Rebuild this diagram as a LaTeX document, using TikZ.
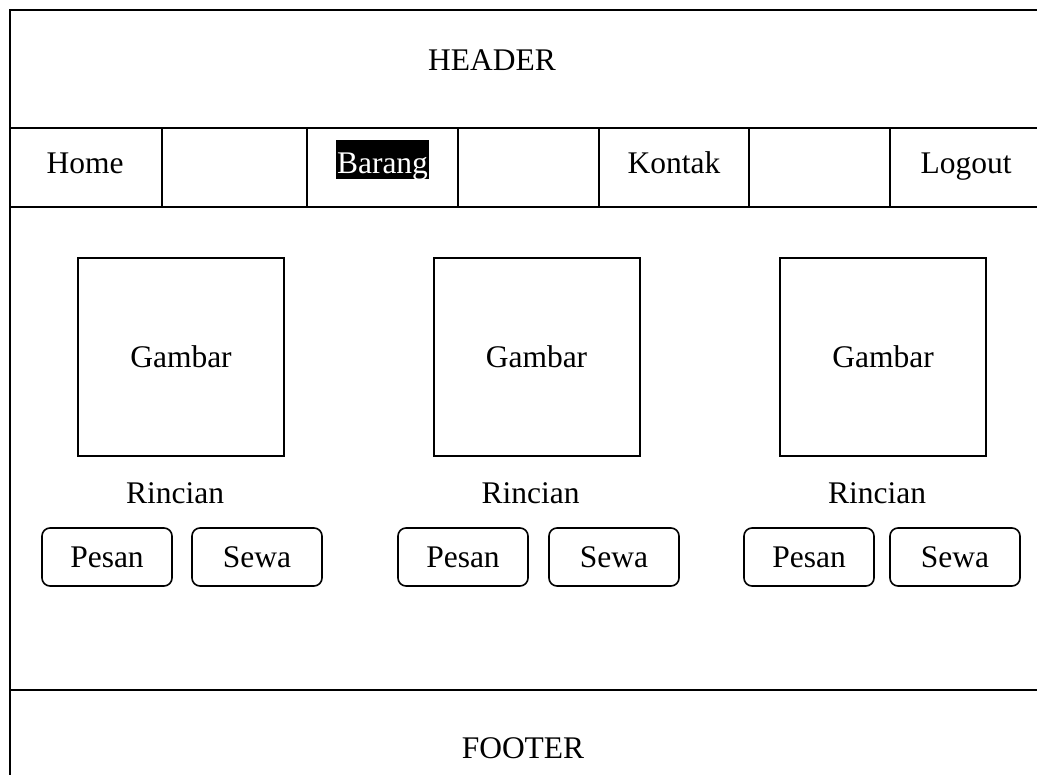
\documentclass[tikz,border=0pt]{standalone}
\usepackage{fontspec}
\setmainfont{Liberation Serif}
\usepackage{tikz}
\usetikzlibrary{positioning}

\tikzset{
  label/.style={font=\fontsize{31.5}{36}\selectfont, inner sep=0pt},
  gambarbox/.style={draw, line width=2pt, minimum width=206pt, minimum height=198pt, label},
  tombol/.style={draw, line width=1.6pt, rounded corners=8pt, minimum width=130pt, minimum height=58pt, label},
}

\begin{document}
\begin{tikzpicture}[x=1pt, y=-1pt, line width=2pt]
        \useasboundingbox (0,0) rectangle (1037,775);

        % outer frame and section lines
        \draw (1040,10) -- (10,10) -- (10,780);
        \draw (10,128) -- (1040,128);
        \draw (10,207) -- (1040,207);
        \draw (10,690) -- (1040,690);

        % header and footer
        \node[label, anchor=base] (header) at (492,70.5) {HEADER};
        \node[label, anchor=base] (footer) at (523,758.5) {FOOTER};

        % menu cells
        \foreach \x in {162,307,458,599,749,890}
            \draw (\x,128) -- (\x,207);
        \node[label, anchor=base] (home) at (85,174) {Home};
        \node[label, anchor=base, fill=black, text=white, text height=34pt, text depth=5pt, inner xsep=1pt] (barang) at (382.5,174) {Barang};
        \node[label, anchor=base] (kontak) at (674,174) {Kontak};
        \node[label, anchor=base] (logout) at (966,174) {Logout};

        % product cards
        \foreach \i/\cx/\px/\sx in {1/181/107/257, 2/536.5/463/614, 3/883/809/955} {
            \node[gambarbox] (gambar\i) at (\cx,357) {Gambar};
            \node[label, anchor=base] (rincian\i) at (\cx-6,504) {Rincian};
            \node[tombol] (pesan\i) at (\px,557) {Pesan};
            \node[tombol] (sewa\i) at (\sx,557) {Sewa};
        }
    \end{tikzpicture}
\end{document}
